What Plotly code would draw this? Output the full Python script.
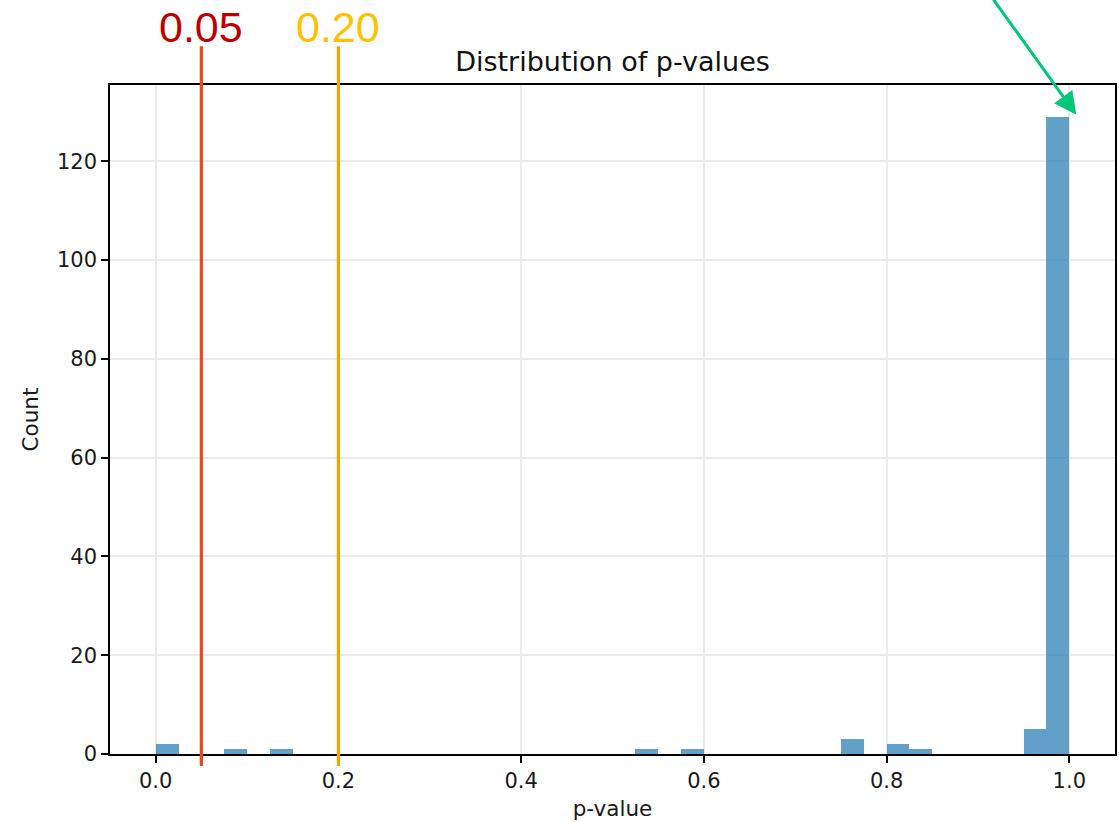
import plotly.graph_objects as go

# Histogram of p-values: 40 bins of width 0.025 on [0, 1]; only non-empty bins listed
bin_width = 0.025
bin_left = [0.0, 0.075, 0.125, 0.525, 0.575, 0.75, 0.8, 0.825, 0.95, 0.975]
bin_count = [2, 1, 1, 1, 1, 3, 2, 1, 5, 129]

# Significance thresholds drawn as vertical markers
thresholds = [0.05, 0.20]
threshold_labels = ["0.05", "0.20"]
line_colors = ["#E8491F", "#F0A500"]
label_colors = ["#C00000", "#FFC000"]

x_ticks = [0.0, 0.2, 0.4, 0.6, 0.8, 1.0]
y_ticks = [0, 20, 40, 60, 80, 100, 120]

bin_centers = [b + bin_width / 2 for b in bin_left]

fig = go.Figure()
fig.add_trace(go.Bar(
    x=bin_centers,
    y=bin_count,
    width=bin_width,
    marker=dict(color="rgba(31,119,180,0.7)", line=dict(width=0)),
    hoverinfo="x+y",
))

for t, lab, lc, tc in zip(thresholds, threshold_labels, line_colors, label_colors):
    fig.add_shape(type="line", xref="x", yref="paper", x0=t, x1=t,
                  y0=-0.018, y1=1.058, line=dict(color=lc, width=3.2), layer="above")
    fig.add_annotation(x=t, xref="x", y=1.087, yref="paper", text=lab,
                       showarrow=False, yanchor="middle", xanchor="center",
                       font=dict(family="Liberation Sans, Arial", size=43, color=tc))

# Arrow pointing at the tallest bin
fig.add_annotation(x=1.0, y=max(bin_count), xref="x", yref="y", text="",
                   showarrow=True, ax=-84, ay=-118, axref="pixel", ayref="pixel",
                   xshift=7, yshift=2,
                   arrowhead=2, arrowsize=1.5, arrowwidth=3, arrowcolor="#00C878")

axis_common = dict(
    showline=True, linecolor="black", linewidth=1.6, mirror=True,
    ticks="outside", ticklen=7, tickwidth=1.6, tickcolor="black",
    showgrid=True, gridcolor="#ebebeb", gridwidth=1.6, zeroline=False,
    tickfont=dict(family="DejaVu Sans", size=21, color="#1a1a1a"),
)

label_font = dict(family="DejaVu Sans", size=21.5, color="#1a1a1a")

fig.update_layout(
    width=1119, height=822,
    margin=dict(l=110, r=2, t=85, b=68),
    paper_bgcolor="white", plot_bgcolor="white",
    showlegend=False, bargap=0,
    title=dict(text="Distribution of p-values", x=0.5, xref="paper",
               y=1 - 62 / 822, yref="container", yanchor="middle", xanchor="center",
               font=dict(family="DejaVu Sans", size=27, color="#111111")),
    xaxis=dict(range=[-0.05, 1.05], tickvals=x_ticks, tickformat=".1f",
               title=dict(text="p-value", standoff=9, font=label_font),
               **axis_common),
    yaxis=dict(range=[0, 135.45], tickvals=y_ticks,
               title=dict(text="Count", standoff=12, font=label_font),
               **axis_common),
)

fig.write_html("out.html")
